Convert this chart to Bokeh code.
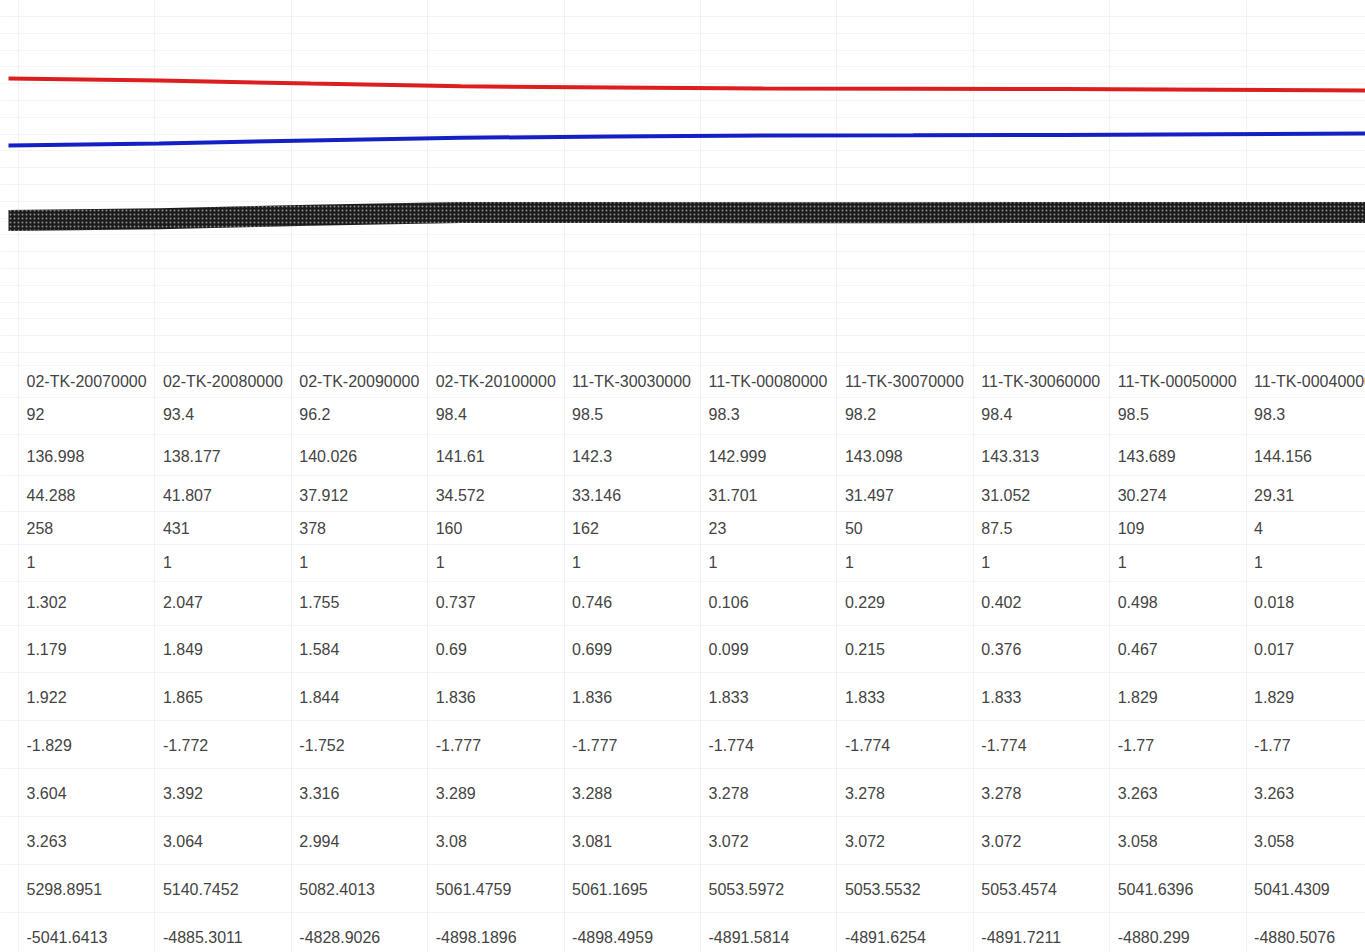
import numpy as np
from bokeh.plotting import figure
from bokeh.models import Range1d, FixedTicker, ColumnDataSource
from bokeh.embed import file_html
from bokeh.resources import INLINE
from bokeh.core.properties import value

# ---------------- data ----------------
headers = ["02-TK-20070000", "02-TK-20080000", "02-TK-20090000", "02-TK-20100000",
           "11-TK-30030000", "11-TK-00080000", "11-TK-30070000", "11-TK-30060000",
           "11-TK-00050000", "11-TK-00040000"]
row_1 = [92, 93.4, 96.2, 98.4, 98.5, 98.3, 98.2, 98.4, 98.5, 98.3]
row_2 = [136.998, 138.177, 140.026, 141.61, 142.3, 142.999, 143.098, 143.313, 143.689, 144.156]
row_3 = [44.288, 41.807, 37.912, 34.572, 33.146, 31.701, 31.497, 31.052, 30.274, 29.31]
row_4 = [258, 431, 378, 160, 162, 23, 50, 87.5, 109, 4]
row_5 = [1, 1, 1, 1, 1, 1, 1, 1, 1, 1]
row_6 = [1.302, 2.047, 1.755, 0.737, 0.746, 0.106, 0.229, 0.402, 0.498, 0.018]
row_7 = [1.179, 1.849, 1.584, 0.69, 0.699, 0.099, 0.215, 0.376, 0.467, 0.017]
row_8 = [1.922, 1.865, 1.844, 1.836, 1.836, 1.833, 1.833, 1.833, 1.829, 1.829]
row_9 = [-1.829, -1.772, -1.752, -1.777, -1.777, -1.774, -1.774, -1.774, -1.77, -1.77]
row_10 = [3.604, 3.392, 3.316, 3.289, 3.288, 3.278, 3.278, 3.278, 3.263, 3.263]
row_11 = [3.263, 3.064, 2.994, 3.08, 3.081, 3.072, 3.072, 3.072, 3.058, 3.058]
row_12 = [5298.8951, 5140.7452, 5082.4013, 5061.4759, 5061.1695, 5053.5972,
          5053.5532, 5053.4574, 5041.6396, 5041.4309]
row_13 = [-5041.6413, -4885.3011, -4828.9026, -4898.1896, -4898.4959, -4891.5814,
          -4891.6254, -4891.7211, -4880.299, -4880.5076]
rows = [row_1, row_2, row_3, row_4, row_5, row_6, row_7, row_8, row_9,
        row_10, row_11, row_12, row_13]

# ---------------- layout (styling only) ----------------
W, H = 1365, 952
TOP, BOTTOM = 0, H               # picture pixel coordinates used as y units
COL_W = 136.4                    # pixel width of one table column
COL0 = 18                        # x of first column boundary
LINE_X0 = 8                      # where the lines begin
HEADER_Y = 381
ROW_PITCH = [32, 42, 39, 33, 34, 40, 47, 48, 48, 48, 48, 48, 48]
row_centers = [HEADER_Y] + list(HEADER_Y + np.cumsum(ROW_PITCH))

p = figure(width=W, height=H, output_backend="svg", toolbar_location=None,
           x_range=Range1d(-COL0 / COL_W, (W - COL0) / COL_W),
           y_range=Range1d(BOTTOM, TOP),
           x_axis_location=None, y_axis_location=None,
           min_border=0, outline_line_color=None,
           background_fill_color="white", border_fill_color="white")

# faint spreadsheet grid
ncol = len(headers)
p.xgrid.ticker = FixedTicker(ticks=list(range(0, ncol + 1)))
p.xgrid.grid_line_color = "#f2f2f2"
top_rows = list(np.arange(16, 360, 16.8))
bounds = [row_centers[0] - 16] + [(a + b) / 2 for a, b in zip(row_centers[:-1], row_centers[1:])]
p.ygrid.ticker = FixedTicker(ticks=top_rows + bounds)
p.ygrid.grid_line_color = "#f4f4f4"

# ---------------- lines ----------------
idx = list(range(ncol))
span = ncol - 1
p.extra_x_ranges = {"lx": Range1d(-LINE_X0 / (W - LINE_X0) * span, span)}

def y_range_for(series, page_y0, px_per_unit):
    v0 = series[0]
    return Range1d(v0 - (BOTTOM - page_y0) / px_per_unit,
                   v0 + (page_y0 - TOP) / px_per_unit)

p.extra_y_ranges = {
    "red": y_range_for(row_3, 78, 0.8),
    "blue": y_range_for(row_2, 145, 1.68),
    "black": y_range_for(row_1, 220, 1.25),
}

half = 10.5 / 1.25
band = ColumnDataSource(dict(x=idx, lo=[v - half for v in row_1], hi=[v + half for v in row_1]))
p.varea(x="x", y1="lo", y2="hi", source=band, x_range_name="lx", y_range_name="black",
        fill_color="#1b1b1b", hatch_pattern="dot", hatch_color="#8c8c8c",
        hatch_scale=4, hatch_weight=1.2)

p.line(idx, row_3, x_range_name="lx", y_range_name="red", line_color="#dc1e1e", line_width=4)
p.line(idx, row_2, x_range_name="lx", y_range_name="blue", line_color="#1420c4", line_width=4)

# ---------------- table text ----------------
xs, ys, texts = [], [], []
for c, h in enumerate(headers):
    xs.append(c); ys.append(row_centers[0]); texts.append(h)
for r, row in enumerate(rows):
    for c, v in enumerate(row):
        xs.append(c); ys.append(row_centers[r + 1]); texts.append(str(v))
src = ColumnDataSource(dict(x=xs, y=ys, t=texts))
p.text(x="x", y="y", text="t", source=src, x_offset=8,
       text_font=value("Liberation Sans"), text_font_size="16px",
       text_color="#444444", text_align="left", text_baseline="middle")

open("out.html", "w").write(file_html(p, INLINE))
